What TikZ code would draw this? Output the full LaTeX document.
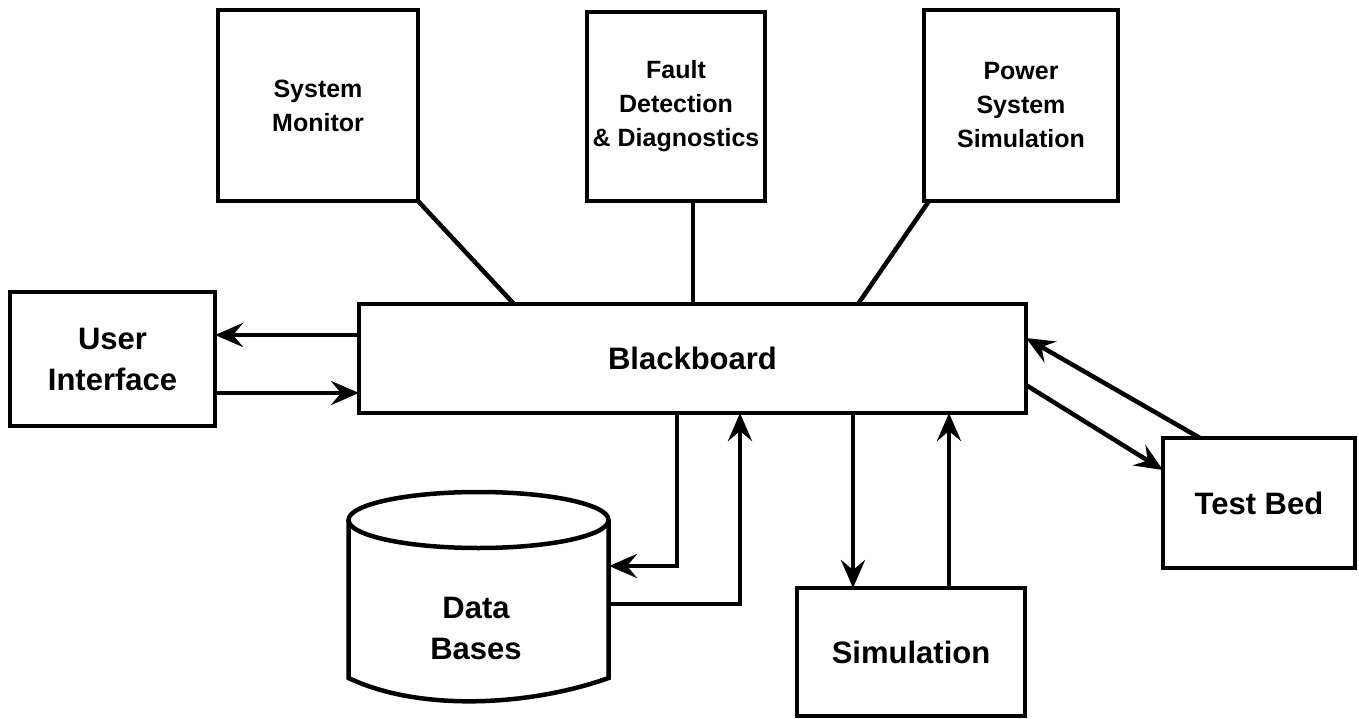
\documentclass[tikz,border=0pt]{standalone}
\usepackage{fontspec}
\setmainfont{Liberation Sans}
\usetikzlibrary{arrows.meta}
\tikzset{
  boxnode/.style={draw, line width=4.5pt, rectangle, inner sep=0pt, outer sep=0pt, align=center},
  smalltxt/.style={font=\fontsize{25}{34}\selectfont\bfseries},
  bigtxt/.style={font=\fontsize{31}{41}\selectfont\bfseries},
  conn/.style={line width=4.5pt},
  arr/.style={line width=4.5pt, -{Stealth[length=28pt,width=24pt,inset=10pt]}},
}
\begin{document}
\begin{tikzpicture}[x=1pt,y=-1pt]
\useasboundingbox (0,0) rectangle (1359,719);
% boxes
\node[boxnode, smalltxt, minimum width=200pt, minimum height=191pt] (sm) at (318,105.5) {System\\Monitor};
\node[boxnode, smalltxt, minimum width=178pt, minimum height=189pt] (fd) at (676,106.5) {Fault\\Detection\\\& Diagnostics};
\node[boxnode, smalltxt, minimum width=194pt, minimum height=191pt] (pss) at (1021,105.5) {Power\\System\\Simulation};
\node[boxnode, bigtxt, minimum width=205pt, minimum height=134pt] (ui) at (112.5,359) {User\\Interface};
\node[boxnode, bigtxt, minimum width=667pt, minimum height=109pt] (bb) at (692.5,358.5) {Blackboard};
\node[boxnode, bigtxt, minimum width=228pt, minimum height=128pt] (sim) at (911,652) {Simulation};
\node[boxnode, bigtxt, minimum width=192pt, minimum height=130pt] (tb) at (1259,503) {Test Bed};
% data bases cylinder
\draw[line width=4.5pt] (348.5,520) -- (348.5,678) .. controls (420,712) and (530,706) .. (608.5,678) -- (608.5,520);
\draw[line width=4.5pt, fill=white] (478.5,520) ellipse [x radius=130pt, y radius=28pt];
\node[bigtxt, align=center, inner sep=0pt] (db) at (476,628) {Data\\Bases};
\coordinate (dbin) at (609,566);
\coordinate (dbout) at (609,604);
% connectors to top boxes
\draw[conn] (sm.south east) -- ([xshift=155pt]bb.north west);
\draw[conn] ([xshift=17pt]fd.south) -- ([xshift=17pt]fd.south |- bb.north);
\draw[conn] ([xshift=5pt]pss.south west) -- ([xshift=499pt]bb.north west);
% user interface
\coordinate (a1) at ([yshift=23.5pt]bb.west);
\coordinate (b1) at ([yshift=-34.5pt]bb.west);
\draw[arr] (a1) -- (a1 -| ui.east);
\draw[arr] (b1 -| ui.east) -- (b1);
% data bases
\draw[arr] ([xshift=-15.5pt]bb.south) |- (dbin);
\draw[arr] (dbout) -| ([xshift=47.5pt]bb.south);
% simulation
\draw[arr] ([xshift=-58pt]sim.north |- bb.south) -- ([xshift=-58pt]sim.north);
\draw[arr] ([xshift=38pt]sim.north) -- ([xshift=38pt]sim.north |- bb.south);
% test bed
\draw[arr] ([xshift=-59pt]tb.north) -- ([yshift=20.5pt]bb.east);
\draw[arr] ([yshift=-26.5pt]bb.east) -- ([yshift=33pt]tb.west);
\end{tikzpicture}
\end{document}
